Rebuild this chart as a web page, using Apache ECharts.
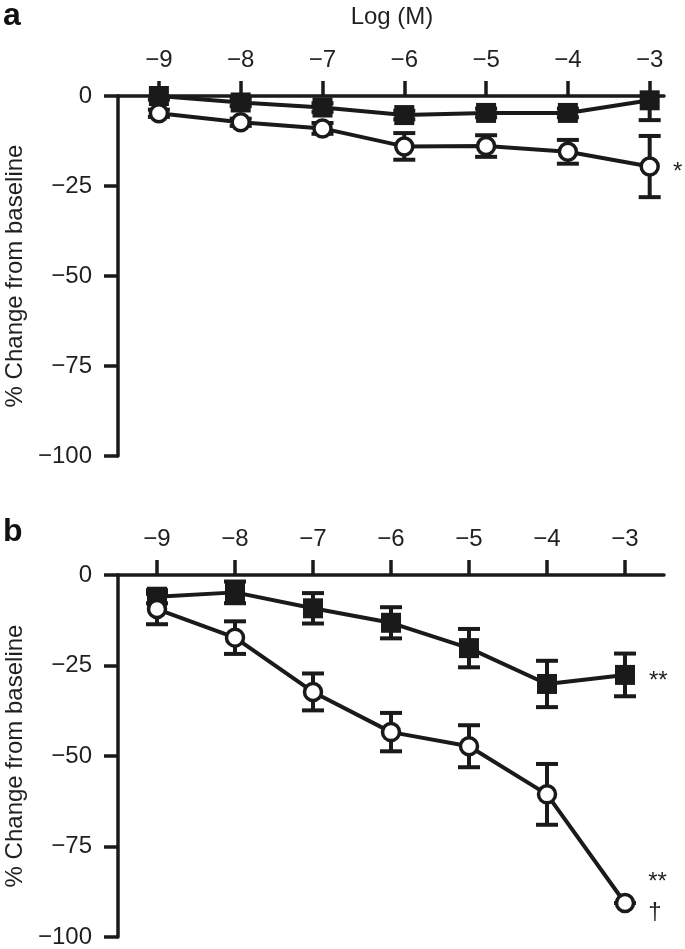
<!DOCTYPE html>
<html>
<head>
<meta charset="utf-8">
<script src="https://cdn.jsdelivr.net/npm/echarts@6/dist/echarts.min.js"></script>
<style>
  html, body { margin: 0; padding: 0; background: #fff; }
  #chart { width: 685px; height: 949px; }
</style>
</head>
<body>
<div id="chart"></div>
<script>
// ---- data ----
var logM = [-9, -8, -7, -6, -5, -4, -3];
var xTicks = [-9, -8, -7, -6, -5, -4, -3];
var yTicks = [0, -25, -50, -75, -100];

// panel a
var aSquare    = [0, -1.8, -3.2, -5.3, -4.7, -4.7, -1.2];
var aSquareErr = [1.0, 1.0, 1.2, 1.2, 1.2, 1.2, 5.5];
var aCircle    = [-4.8, -7.3, -9.0, -14.0, -13.9, -15.5, -19.6];
var aCircleErr = [1.0, 1.0, 1.5, 3.7, 3.0, 3.3, 8.5];

// panel b
var bSquare    = [-6.0, -4.8, -9.2, -13.2, -20.2, -30.1, -27.6];
var bSquareErr = [1.8, 3.0, 4.2, 4.3, 5.3, 6.4, 5.9];
var bCircle    = [-9.4, -17.3, -32.3, -43.4, -47.3, -60.6, -90.6];
var bCircleErr = [4.2, 4.5, 5.1, 5.3, 5.8, 8.4, 0];

var aCircleNote = '*';
var bSquareNote = '**';
var bCircleNote = '**\n\u2020';

// ---- helpers ----
var FONT = '"Liberation Sans", Arial, Helvetica, sans-serif';
var INK = '#1a1a1a';
var TXT = '#231f20';
var LW = 3.5;
var FS = 24;

function minus(v) { return String(v).replace('-', '\u2212'); }

function pairs(xs, ys) { return xs.map(function (x, i) { return [x, ys[i]]; }); }
function errRows(xs, ys, es) { return xs.map(function (x, i) { return [x, ys[i] - es[i], ys[i] + es[i]]; }); }

function errSeries(idx, rows) {
  return {
    type: 'custom', xAxisIndex: idx, yAxisIndex: idx, z: 1, clip: true,
    data: rows, silent: true,
    renderItem: function (params, api) {
      var lo = api.coord([api.value(0), api.value(1)]);
      var hi = api.coord([api.value(0), api.value(2)]);
      var hw = 11;
      var st = { stroke: INK, lineWidth: 4 };
      return { type: 'group', children: [
        { type: 'line', shape: { x1: lo[0], y1: lo[1], x2: hi[0], y2: hi[1] }, style: st },
        { type: 'line', shape: { x1: lo[0] - hw, y1: lo[1], x2: lo[0] + hw, y2: lo[1] }, style: st },
        { type: 'line', shape: { x1: hi[0] - hw, y1: hi[1], x2: hi[0] + hw, y2: hi[1] }, style: st }
      ]};
    }
  };
}

function squareSeries(idx, ys, note) {
  var d = pairs(logM, ys).map(function (p, i) {
    if (note && i === ys.length - 1) {
      return { value: p, label: { show: true, formatter: note, position: 'right', distance: 14,
        fontSize: FS, color: TXT, fontFamily: FONT, offset: [0, 6] } };
    }
    return p;
  });
  return {
    type: 'line', xAxisIndex: idx, yAxisIndex: idx, z: 3, data: d,
    symbol: 'rect', symbolSize: 20, showAllSymbol: true,
    lineStyle: { color: INK, width: 4 },
    itemStyle: { color: INK, borderColor: INK, borderWidth: 0 },
    emphasis: { disabled: true }, animation: false
  };
}

function circleSeries(idx, ys, note, off) {
  var d = pairs(logM, ys).map(function (p, i) {
    if (note && i === ys.length - 1) {
      return { value: p, label: { show: true, formatter: note, position: 'right', distance: 13,
        fontSize: FS, color: TXT, fontFamily: FONT, lineHeight: 30, align: 'left', offset: off } };
    }
    return p;
  });
  return {
    type: 'line', xAxisIndex: idx, yAxisIndex: idx, z: 4, data: d,
    symbol: 'circle', symbolSize: 17, showAllSymbol: true,
    lineStyle: { color: INK, width: 4 },
    itemStyle: { color: '#fff', borderColor: INK, borderWidth: 3.5 },
    emphasis: { disabled: true }, animation: false
  };
}

function xAxisDef(idx, max) {
  return {
    type: 'value', gridIndex: idx, position: 'top', min: -9.5, max: max,
    axisLine: { show: true, onZero: false, lineStyle: { color: INK, width: LW } },
    axisTick: { show: true, inside: false, length: 15, customValues: xTicks, lineStyle: { color: INK, width: LW } },
    axisLabel: { show: true, customValues: xTicks, margin: 24, fontSize: FS, color: TXT, fontFamily: FONT,
      formatter: function (v) { return minus(v); } },
    splitLine: { show: false }
  };
}

function yAxisDef(idx) {
  return {
    type: 'value', gridIndex: idx, min: -100, max: 0, interval: 25,
    name: '% Change from baseline', nameLocation: 'middle', nameGap: 80, nameRotate: 90,
    nameTextStyle: { fontSize: 24, color: TXT, fontFamily: FONT },
    axisLine: { show: true, onZero: false, lineStyle: { color: INK, width: LW } },
    axisTick: { show: true, inside: false, length: 14, lineStyle: { color: INK, width: LW } },
    axisLabel: { show: true, margin: 26, fontSize: FS, color: TXT, fontFamily: FONT,
      formatter: function (v) { return minus(v); } },
    splitLine: { show: false }
  };
}

var chart = echarts.init(document.getElementById('chart'), null, { renderer: 'canvas' });
chart.setOption({
  backgroundColor: '#fff',
  animation: false,
  grid: [
    { left: 118, top: 96, width: 546, height: 360, containLabel: false, outerBoundsMode: 'none' },
    { left: 118, top: 575, width: 546, height: 362, containLabel: false, outerBoundsMode: 'none' }
  ],
  xAxis: [xAxisDef(0, -2.825), xAxisDef(1, -2.5)],
  yAxis: [yAxisDef(0), yAxisDef(1)],
  graphic: [
    { type: 'text', left: 3, top: 0, style: { text: 'a', font: 'bold 32px ' + FONT, fill: '#111' } },
    { type: 'text', left: 3, top: 516, style: { text: 'b', font: 'bold 32px ' + FONT, fill: '#111' } },
    { type: 'text', x: 392, y: 17, style: { text: 'Log (M)', font: '24px ' + FONT, fill: TXT, align: 'center', verticalAlign: 'middle' } }
  ],
  series: [
    errSeries(0, errRows(logM, aSquare, aSquareErr)),
    errSeries(0, errRows(logM, aCircle, aCircleErr)),
    squareSeries(0, aSquare, null),
    circleSeries(0, aCircle, aCircleNote, [0, 6]),
    errSeries(1, errRows(logM, bSquare, bSquareErr)),
    errSeries(1, errRows(logM, bCircle, bCircleErr)),
    squareSeries(1, bSquare, bSquareNote),
    circleSeries(1, bCircle, bCircleNote, [0, -6])
  ]
});
</script>
</body>
</html>
